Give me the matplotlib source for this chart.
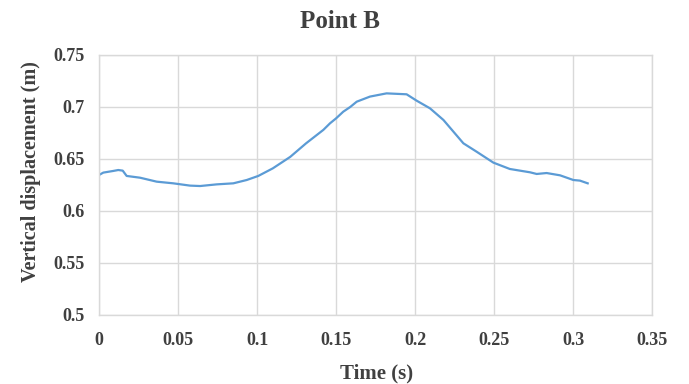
import matplotlib
matplotlib.use("Agg")
import matplotlib.pyplot as plt

# Point B vertical displacement
time_s = [0.0, 0.0027, 0.009, 0.0122, 0.015, 0.0175, 0.026, 0.0365, 0.047,
          0.0576, 0.064, 0.0745, 0.085, 0.0935, 0.1008, 0.110, 0.121, 0.131,
          0.142, 0.1462, 0.150, 0.1546, 0.159, 0.1631, 0.1715, 0.182, 0.1947,
          0.201, 0.2095, 0.218, 0.2243, 0.2306, 0.239, 0.2496, 0.260, 0.2728,
          0.277, 0.2833, 0.2918, 0.3002, 0.3044, 0.3093]
disp_m = [0.6346, 0.6369, 0.6385, 0.6394, 0.6388, 0.6337, 0.6320, 0.6282,
          0.6266, 0.6244, 0.6240, 0.6256, 0.6266, 0.6298, 0.6337, 0.6410,
          0.6520, 0.6650, 0.6780, 0.6843, 0.6890, 0.6955, 0.7000, 0.7051,
          0.7100, 0.7131, 0.7122, 0.7061, 0.6987, 0.6875, 0.6763, 0.6651,
          0.6570, 0.6465, 0.6404, 0.6372, 0.6356, 0.6365, 0.6343, 0.6298,
          0.6292, 0.6266]

x_ticks = [0, 0.05, 0.1, 0.15, 0.2, 0.25, 0.3, 0.35]
x_labels = ["0", "0.05", "0.1", "0.15", "0.2", "0.25", "0.3", "0.35"]
y_ticks = [0.5, 0.55, 0.6, 0.65, 0.7, 0.75]
y_labels = ["0.5", "0.55", "0.6", "0.65", "0.7", "0.75"]

plt.rcParams["font.family"] = ["Liberation Serif", "DejaVu Serif"]
plt.rcParams["font.weight"] = "bold"
text_color = "#404040"

fig = plt.figure(figsize=(6.89, 3.84), dpi=100)
ax = fig.add_axes([0.1437, 0.1797, 0.8026, 0.6771])

ax.plot(time_s, disp_m, color="#5B9BD5", linewidth=1.6)

ax.set_xlim(0, 0.35)
ax.set_ylim(0.5, 0.75)
ax.set_xticks(x_ticks, x_labels)
ax.set_yticks(y_ticks, y_labels)
ax.tick_params(axis="y", length=0, labelsize=13, colors=text_color, pad=10)
ax.tick_params(axis="x", length=0, labelsize=13, colors=text_color, pad=12)
for lab in ax.get_xticklabels() + ax.get_yticklabels():
    lab.set_fontweight("bold")
ax.grid(True, color="#d9d9d9", linewidth=1)
ax.set_axisbelow(True)
for side in ["top", "right", "left", "bottom"]:
    ax.spines[side].set_color("#d9d9d9")
    ax.spines[side].set_linewidth(1)

fig.text(340 / 689, 1 - 21 / 384, "Point B", fontsize=18, fontweight="bold",
         color=text_color, ha="center", va="center")
fig.text(377 / 689, 1 - 373 / 384, "Time (s)", fontsize=15, fontweight="bold",
         color=text_color, ha="center", va="center")
fig.text(31 / 689, 1 - 172 / 384, "Vertical displacement (m)", fontsize=14.5,
         fontweight="bold", color=text_color, ha="center", va="center",
         rotation=90)

fig.savefig("out.png", dpi=100)
